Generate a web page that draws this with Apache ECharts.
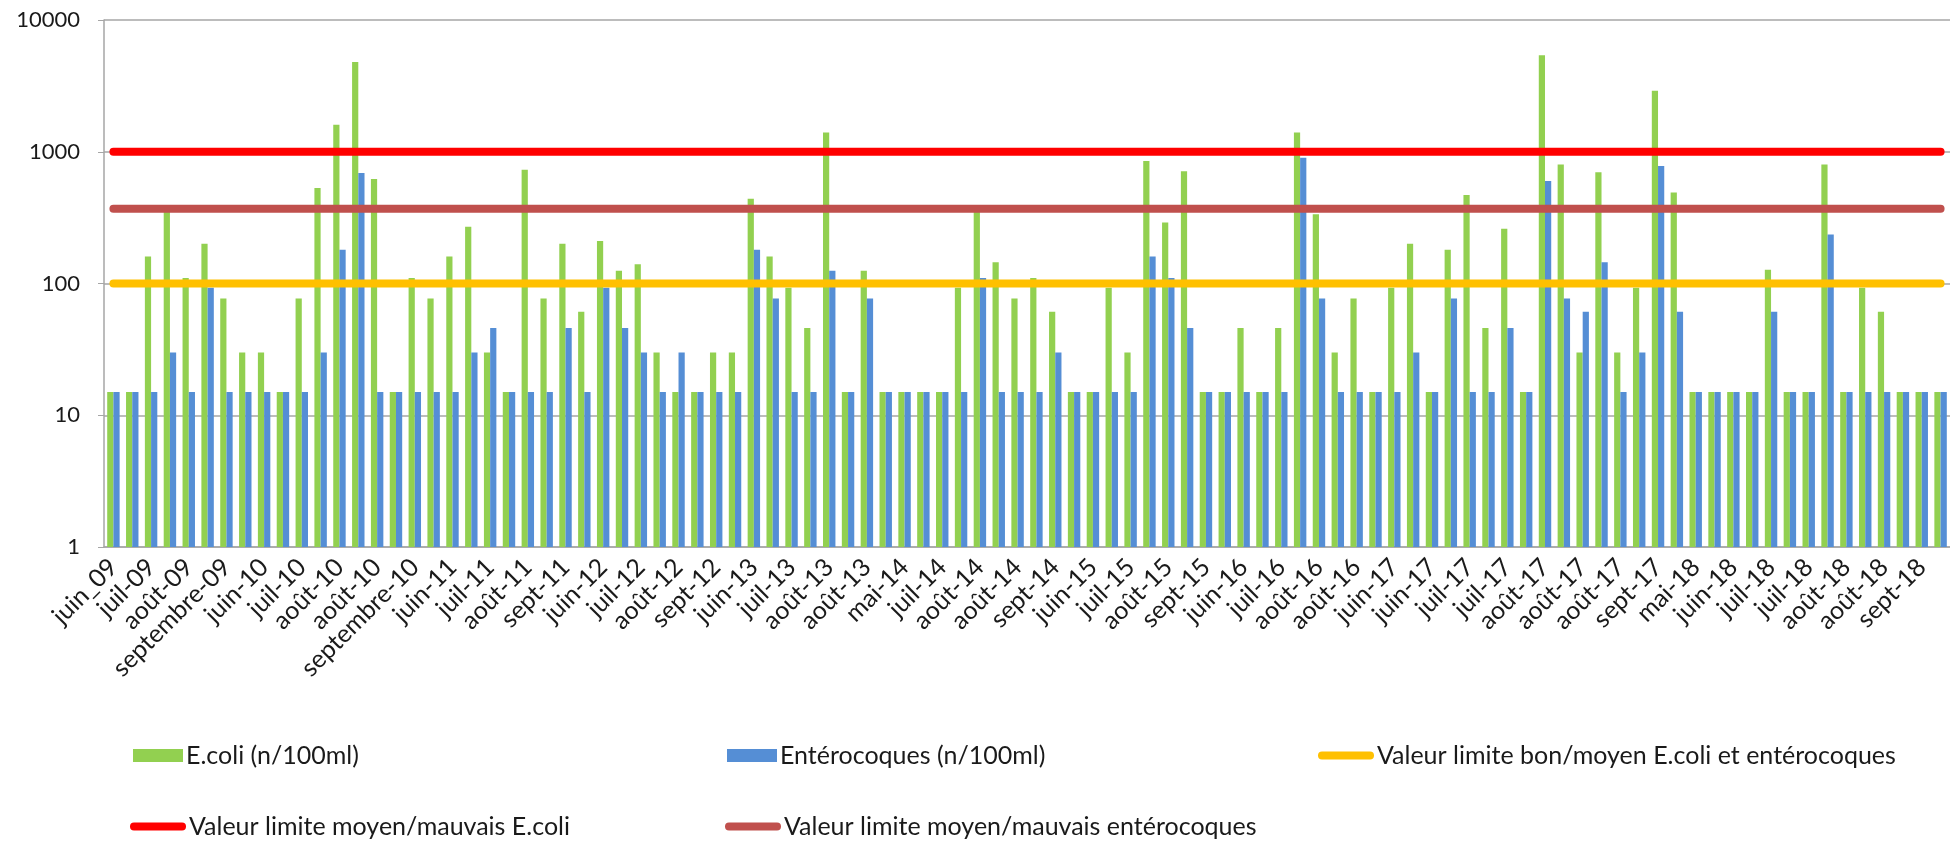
<!DOCTYPE html>
<html>
<head>
<meta charset="utf-8">
<script src="https://cdn.jsdelivr.net/npm/echarts@6/dist/echarts.min.js"></script>
<style>
    html, body { margin: 0; padding: 0; background: #fff; }
    #chart { width: 1950px; height: 841px; }
</style>
</head>
<body>
<div id="chart"></div>
<script>
// labels shown under every other sample (Excel skips one label out of two)
const tickLabels = ['juin_09', 'juil-09', 'août-09', 'septembre-09', 'juin-10', 'juil-10', 'août-10', 'août-10',
    'septembre-10', 'juin-11', 'juil-11', 'août-11', 'sept-11', 'juin-12', 'juil-12', 'août-12', 'sept-12',
    'juin-13', 'juil-13', 'août-13', 'août-13', 'mai-14', 'juil-14', 'août-14', 'août-14', 'sept-14',
    'juin-15', 'juil-15', 'août-15', 'sept-15', 'juin-16', 'juil-16', 'août-16', 'août-16', 'juin-17',
    'juin-17', 'juil-17', 'juil-17', 'août-17', 'août-17', 'août-17', 'sept-17', 'mai-18', 'juin-18',
    'juil-18', 'juil-18', 'août-18', 'août-18', 'sept-18'];

const ecoli = [15, 15, 160, 360, 110, 200, 77, 30, 30, 15,
    77, 530, 1600, 4800, 620, 15, 110, 77, 160, 270,
    30, 15, 730, 77, 200, 61, 210, 125, 140, 30,
    15, 15, 30, 30, 440, 160, 93, 46, 1400, 15,
    125, 15, 15, 15, 15, 93, 360, 145, 77, 110,
    61, 15, 15, 93, 30, 850, 290, 710, 15, 15,
    46, 15, 46, 1400, 335, 30, 77, 15, 93, 200,
    15, 180, 470, 46, 260, 15, 5400, 800, 30, 700,
    30, 93, 2900, 490, 15, 15, 15, 15, 127, 15,
    15, 800, 15, 93, 61, 15, 15, 15];

const enterocoques = [15, 15, 15, 30, 15, 93, 15, 15, 15, 15,
    15, 30, 180, 690, 15, 15, 15, 15, 15, 30,
    46, 15, 15, 15, 46, 15, 93, 46, 30, 15,
    30, 15, 15, 15, 180, 77, 15, 15, 125, 15,
    77, 15, 15, 15, 15, 15, 110, 15, 15, 15,
    30, 15, 15, 15, 15, 160, 110, 46, 15, 15,
    15, 15, 15, 900, 77, 15, 15, 15, 15, 30,
    15, 77, 15, 15, 46, 15, 600, 77, 61, 145,
    15, 30, 780, 61, 15, 15, 15, 15, 61, 15,
    15, 235, 15, 15, 15, 15, 15, 15];

const limitBonMoyen = 100;
const limitEcoli = 1000;
const limitEntero = 370;

const categories = ecoli.map((v, i) => (i % 2 === 0 ? tickLabels[i / 2] : ''));

const FONT = 'Lato';
const names = ['E.coli (n/100ml)', 'Entérocoques (n/100ml)', 'Valeur limite bon/moyen E.coli et entérocoques',
    'Valeur limite moyen/mauvais E.coli', 'Valeur limite moyen/mauvais entérocoques'];
const pill = 'path://M4,0 H52 A4,4 0 0 1 52,8 H4 A4,4 0 0 1 4,0 Z';

function legend(name, left, top, icon, w, h) {
    return {
        data: [name], left: left, top: top, padding: 0,
        icon: icon, itemWidth: w, itemHeight: h, itemGap: 0,
        selectedMode: false,
        textStyle: {fontFamily: FONT, fontSize: 25, color: '#1a1a1a', padding: [0, 0, 0, -2]}
    };
}

function limitLine(name, value, color) {
    return {
        name: name, type: 'line', symbol: 'none', z: 5,
        data: categories.map(() => value),
        lineStyle: {color: color, width: 8, cap: 'round'},
        itemStyle: {color: color}
    };
}

let chart = echarts.init(document.getElementById('chart'), null, {renderer: 'canvas'});
chart.setOption({
    animation: false,
    grid: {left: 104, right: -10, top: 20, bottom: 294},
    legend: [
        legend(names[0], 133, 743, 'rect', 50, 13),
        legend(names[1], 727, 743, 'rect', 50, 13),
        legend(names[2], 1318, 743, pill, 56, 8),
        legend(names[3], 130, 814, pill, 56, 8),
        legend(names[4], 725, 814, pill, 56, 8)
    ],
    xAxis: {
        type: 'category',
        data: categories,
        axisLine: {lineStyle: {color: '#a6a6a6', width: 1.5}},
        axisTick: {show: false},
        axisLabel: {
            interval: 0, rotate: 45, margin: 16,
            fontFamily: FONT, fontSize: 25, color: '#1a1a1a'
        }
    },
    yAxis: {
        type: 'log',
        logBase: 10,
        min: 1,
        max: 10000,
        axisLine: {show: true, lineStyle: {color: '#a6a6a6', width: 1.5}},
        axisTick: {show: true, length: 6, lineStyle: {color: '#a6a6a6'}},
        splitLine: {lineStyle: {color: '#a6a6a6', width: 1.5}},
        axisLabel: {
            fontFamily: FONT, fontSize: 22, color: '#1a1a1a', margin: 24,
            formatter: v => String(Math.round(v))
        }
    },
    series: [
        {
            name: names[0], type: 'bar', data: ecoli,
            barGap: '0%', barCategoryGap: '34%',
            itemStyle: {color: '#92d050'}
        },
        {
            name: names[1], type: 'bar', data: enterocoques,
            itemStyle: {color: '#558ed5'}
        },
        limitLine(names[2], limitBonMoyen, '#ffc000'),
        limitLine(names[3], limitEcoli, '#ff0000'),
        limitLine(names[4], limitEntero, '#c0504d')
    ]
});
</script>
</body>
</html>
